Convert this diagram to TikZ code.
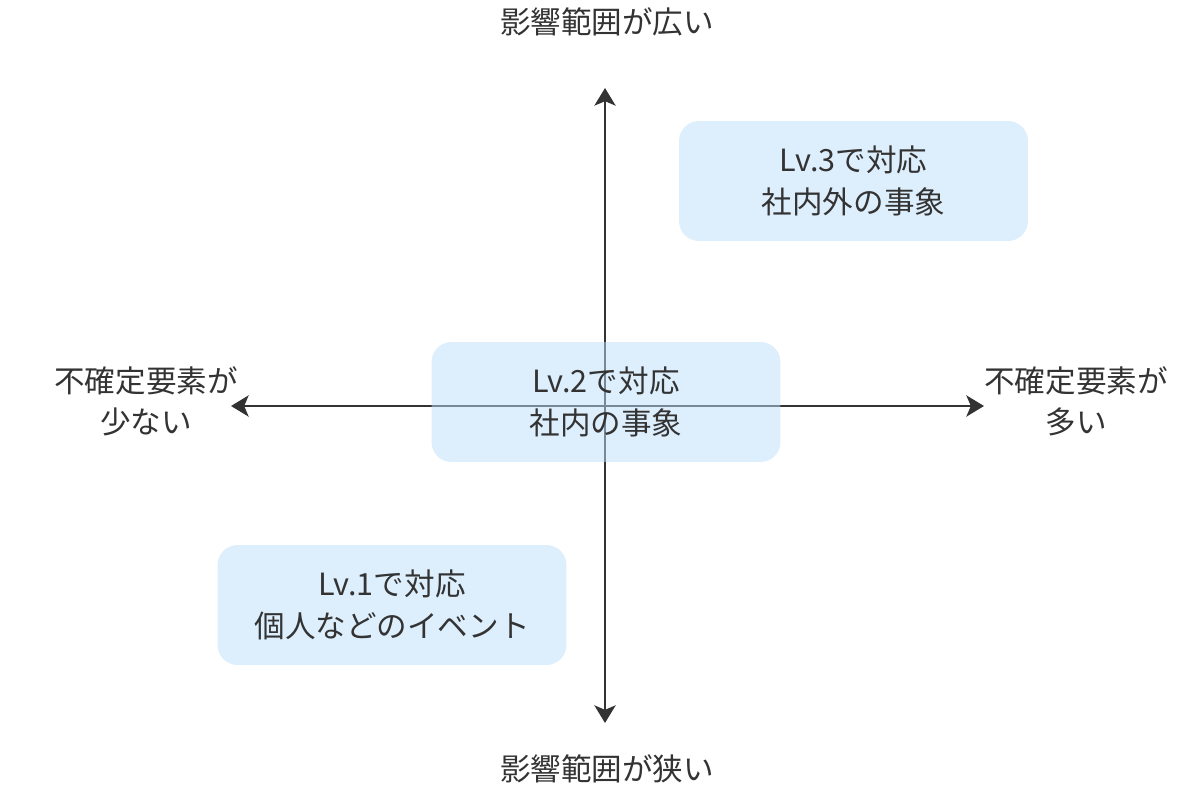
\documentclass[tikz,border=0pt]{standalone}
\usepackage{fontspec}
\setmainfont{Noto Sans CJK JP}
\usepackage{tikz}
\usetikzlibrary{positioning, arrows.meta}
\definecolor{axisgray}{HTML}{333333}
\definecolor{boxblue}{RGB}{187,221,249}

\begin{document}
\begin{tikzpicture}[x=0.02cm, y=-0.02cm, >={Stealth[length=10pt, width=12pt, inset=2.5pt]},
    lvbox/.style={rounded corners=0.4cm, fill=boxblue, fill opacity=0.5, text opacity=1,
        minimum width=6.98cm, minimum height=2.4cm, align=center, text=axisgray,
        font=\fontsize{17.4}{23.5}\selectfont},
    axislabel/.style={align=center, text=axisgray, font=\fontsize{17.4}{23.5}\selectfont}]
    \useasboundingbox (0,0) rectangle (1200,791);
    % Axis end points
    \coordinate (Top) at (605,88);
    \coordinate (Bottom) at (605,723);
    \coordinate (Left) at (231,406);
    \coordinate (Right) at (984,406);

    % Axes
    \draw[<->, axisgray, line width=1.6pt] (Bottom) -- (Top);
    \draw[<->, axisgray, line width=1.6pt] (Left) -- (Right);

    % Axis labels
    \node[axislabel] (wide) at (607,22) {影響範囲が広い};
    \node[axislabel] (narrow) at (607,769) {影響範囲が狭い};
    \node[axislabel] (few) at (146,401) {不確定要素が\\少ない};
    \node[axislabel] (many) at (1076,401) {不確定要素が\\多い};

    % Levels
    \node[lvbox] (lv3) at (853.5,181) {Lv.3で対応\\社内外の事象};
    \node[lvbox] (lv2) at (606,402) {Lv.2で対応\\社内の事象};
    \node[lvbox] (lv1) at (392,605) {Lv.1で対応\\個人などのイベント};
\end{tikzpicture}
\end{document}
